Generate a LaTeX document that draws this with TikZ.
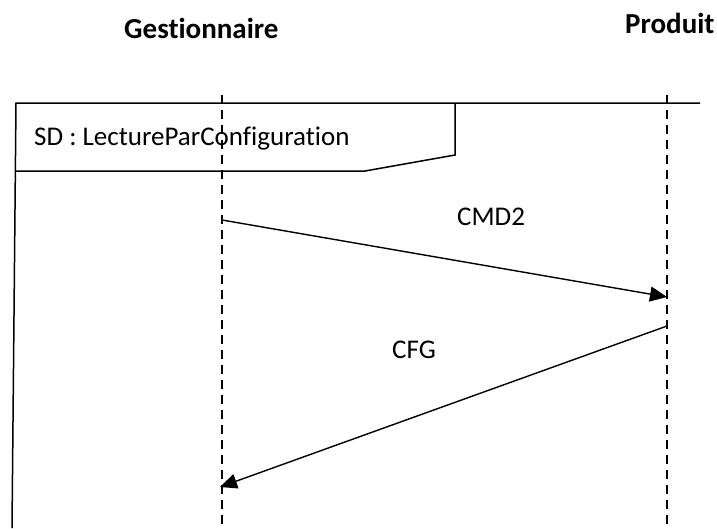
\documentclass[tikz,border=0pt]{standalone}
\usepackage{fontspec}
\setmainfont{Carlito}[Ligatures=NoCommon]
\usetikzlibrary{arrows.meta}
\begin{document}
\begin{tikzpicture}[x=1pt,y=-1pt,
  lifeline/.style={line width=1.4pt,dash pattern=on 9pt off 6pt},
  msg/.style={line width=1.4pt,-{Triangle[length=17pt,width=15pt]}},
  frameline/.style={line width=1.5pt},
  title/.style={font=\bfseries\fontsize{29}{34}\selectfont,inner sep=0pt,anchor=base west},
  lbl/.style={font=\fontsize{27}{32}\selectfont,inner sep=0pt,anchor=base west}]
\useasboundingbox (0,0) rectangle (717,528);
\node[title] (gest) at (124,38) {Gestionnaire};
\node[title] (prod) at (625,33) {Produit};
\coordinate (gtop) at (222,95);
\coordinate (gbot) at (222,528);
\coordinate (ptop) at (667,95);
\coordinate (pbot) at (667,528);
\draw[lifeline] (gtop) -- (gbot);
\draw[lifeline] (ptop) -- (pbot);
% frame
\draw[frameline] (700,103) -- (16,103) -- (12,528);
\draw[frameline] (455,103) -- (455,155) -- (365,171) -- (16,171);
\node[lbl] (sd) at (34,145) {SD : LectureParConfiguration};
% messages
\coordinate (m1s) at (222,220);
\coordinate (m1e) at (667,297);
\coordinate (m2s) at (667,326);
\coordinate (m2e) at (220,487);
\draw[msg] (m1s) -- (m1e);
\draw[msg] (m2s) -- (m2e);
\node[lbl] (cmd2) at (457,225) {CMD2};
\node[lbl] (cfg) at (392,358) {CFG};
\end{tikzpicture}
\end{document}
